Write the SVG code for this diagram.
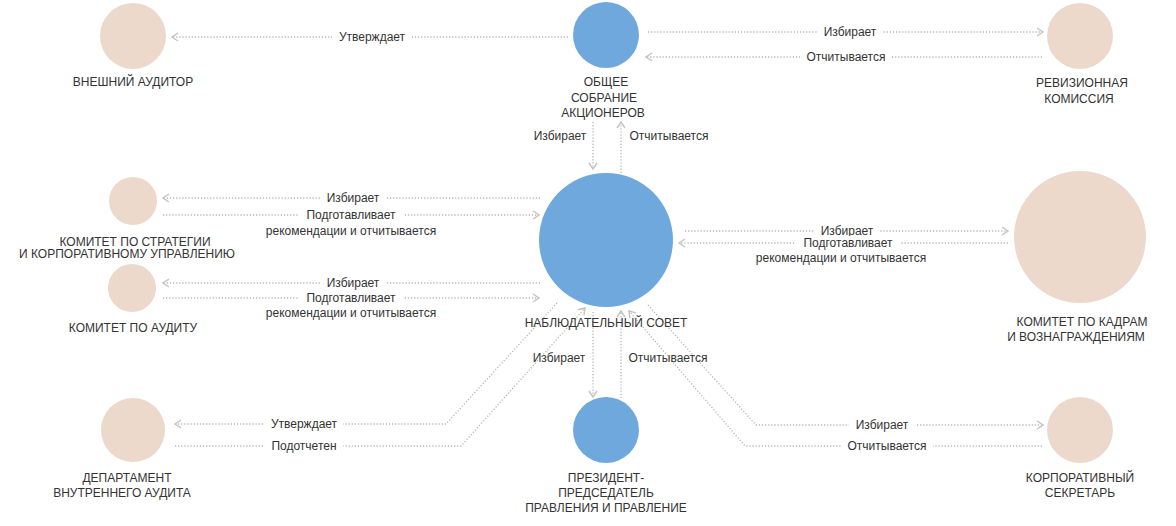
<svg xmlns="http://www.w3.org/2000/svg" width="1176" height="526" viewBox="0 0 1176 526">
<style>
.blue{fill:#6fa8dc}
.beige{fill:#ecd9cb}
.lbl{font-family:"Liberation Sans",Arial,sans-serif;font-size:12px;fill:#333333;text-anchor:middle}
.edge{fill:none;stroke:#b5b5b5;stroke-width:1.3;stroke-dasharray:1.2 1.9}
.bg{fill:#ffffff}
</style>
<defs>
<marker id="arr" viewBox="0 0 8 10" refX="7" refY="5" markerWidth="8" markerHeight="10" markerUnits="userSpaceOnUse" orient="auto">
<path d="M1,1 L7,5 L1,9" fill="none" stroke="#c4c4c4" stroke-width="1.4"/>
</marker>
</defs>
<rect width="1176" height="526" fill="#ffffff"/>
<g id="connectors">
<path class="edge" d="M568,37 H172" marker-end="url(#arr)"/>
<path class="edge" d="M648,32 H1043" marker-end="url(#arr)"/>
<path class="edge" d="M1042,57 H646" marker-end="url(#arr)"/>
<path class="edge" d="M593,122 V169" marker-end="url(#arr)"/>
<path class="edge" d="M621,176 V122" marker-end="url(#arr)"/>
<path class="edge" d="M540,198 H163" marker-end="url(#arr)"/>
<path class="edge" d="M163,215 H539" marker-end="url(#arr)"/>
<path class="edge" d="M540,283 H163" marker-end="url(#arr)"/>
<path class="edge" d="M163,298 H539" marker-end="url(#arr)"/>
<path class="edge" d="M685,231 H1008" marker-end="url(#arr)"/>
<path class="edge" d="M1008,243 H679" marker-end="url(#arr)"/>
<path class="edge" d="M593,312 V397" marker-end="url(#arr)"/>
<path class="edge" d="M621,398 V311" marker-end="url(#arr)"/>
<path class="edge" d="M557,303 L446,424 H175" marker-end="url(#arr)"/>
<path class="edge" d="M175,446 H461 L585,308" marker-end="url(#arr)"/>
<path class="edge" d="M648,305 L756,425 H1043" marker-end="url(#arr)"/>
<path class="edge" d="M1042,446 H745 L629,311" marker-end="url(#arr)"/>
<g id="edge-labels">
<rect class="bg" x="332" y="30" width="80" height="14"/><text class="lbl" x="372" y="41">Утверждает</text>
<rect class="bg" x="817" y="25" width="66" height="14"/><text class="lbl" x="850" y="36">Избирает</text>
<rect class="bg" x="800" y="50" width="92" height="14"/><text class="lbl" x="846" y="61">Отчитывается</text>
<text class="lbl" x="560" y="140">Избирает</text>
<text class="lbl" x="669" y="140">Отчитывается</text>
<rect class="bg" x="321" y="191" width="64" height="14"/><text class="lbl" x="353" y="202">Избирает</text>
<rect class="bg" x="299" y="208" width="104" height="14"/><text class="lbl" x="351" y="219">Подготавливает</text>
<text class="lbl" x="351" y="235">рекомендации и отчитывается</text>
<rect class="bg" x="321" y="276" width="64" height="14"/><text class="lbl" x="353" y="287">Избирает</text>
<rect class="bg" x="299" y="291" width="104" height="14"/><text class="lbl" x="351" y="302">Подготавливает</text>
<text class="lbl" x="351" y="317">рекомендации и отчитывается</text>
<rect class="bg" x="815" y="224" width="64" height="14"/><text class="lbl" x="847" y="235">Избирает</text>
<rect class="bg" x="796" y="236" width="104" height="14"/><text class="lbl" x="848" y="247">Подготавливает</text>
<text class="lbl" x="841" y="262">рекомендации и отчитывается</text>
<text class="lbl" x="559" y="362">Избирает</text>
<text class="lbl" x="668" y="362">Отчитывается</text>
<rect class="bg" x="265" y="417" width="78" height="14"/><text class="lbl" x="304" y="428">Утверждает</text>
<rect class="bg" x="265" y="439" width="78" height="14"/><text class="lbl" x="304" y="450">Подотчетен</text>
<rect class="bg" x="849" y="418" width="66" height="14"/><text class="lbl" x="882" y="429">Избирает</text>
<rect class="bg" x="841" y="439" width="92" height="14"/><text class="lbl" x="887" y="450">Отчитывается</text>
</g>
</g>
<g id="node-external-auditor">
<circle class="beige" cx="133" cy="36" r="33"/>
<text class="lbl" x="133" y="86">ВНЕШНИЙ АУДИТОР</text>
</g>
<g id="node-shareholders">
<circle class="blue" cx="606" cy="35" r="33"/>
<text class="lbl" x="606" y="86">ОБЩЕЕ</text>
<text class="lbl" x="604" y="102">СОБРАНИЕ</text>
<text class="lbl" x="603" y="117">АКЦИОНЕРОВ</text>
</g>
<g id="node-revision">
<circle class="beige" cx="1080" cy="36" r="33"/>
<text class="lbl" x="1082" y="87">РЕВИЗИОННАЯ</text>
<text class="lbl" x="1079" y="103">КОМИССИЯ</text>
</g>
<g id="node-board">
<circle class="blue" cx="606" cy="240" r="67"/>
<text class="lbl" x="606" y="327">НАБЛЮДАТЕЛЬНЫЙ СОВЕТ</text>
</g>
<g id="node-strategy">
<circle class="beige" cx="133" cy="201" r="24"/>
<text class="lbl" x="135" y="246">КОМИТЕТ ПО СТРАТЕГИИ</text>
<text class="lbl" x="127" y="258">И КОРПОРАТИВНОМУ УПРАВЛЕНИЮ</text>
</g>
<g id="node-audit">
<circle class="beige" cx="132" cy="288" r="24"/>
<text class="lbl" x="133" y="332">КОМИТЕТ ПО АУДИТУ</text>
</g>
<g id="node-hr">
<circle class="beige" cx="1080" cy="237" r="66"/>
<text class="lbl" x="1082" y="326">КОМИТЕТ ПО КАДРАМ</text>
<text class="lbl" x="1076" y="341">И ВОЗНАГРАЖДЕНИЯМ</text>
</g>
<g id="node-internal-audit">
<circle class="beige" cx="133" cy="430" r="32"/>
<text class="lbl" x="127" y="482">ДЕПАРТАМЕНТ</text>
<text class="lbl" x="122" y="497">ВНУТРЕННЕГО АУДИТА</text>
</g>
<g id="node-president">
<circle class="blue" cx="606" cy="430" r="33"/>
<text class="lbl" x="606" y="482">ПРЕЗИДЕНТ-</text>
<text class="lbl" x="606" y="497">ПРЕДСЕДАТЕЛЬ</text>
<text class="lbl" x="606" y="512">ПРАВЛЕНИЯ И ПРАВЛЕНИЕ</text>
</g>
<g id="node-secretary">
<circle class="beige" cx="1080" cy="430" r="33"/>
<text class="lbl" x="1080" y="482">КОРПОРАТИВНЫЙ</text>
<text class="lbl" x="1080" y="497">СЕКРЕТАРЬ</text>
</g>
</svg>
